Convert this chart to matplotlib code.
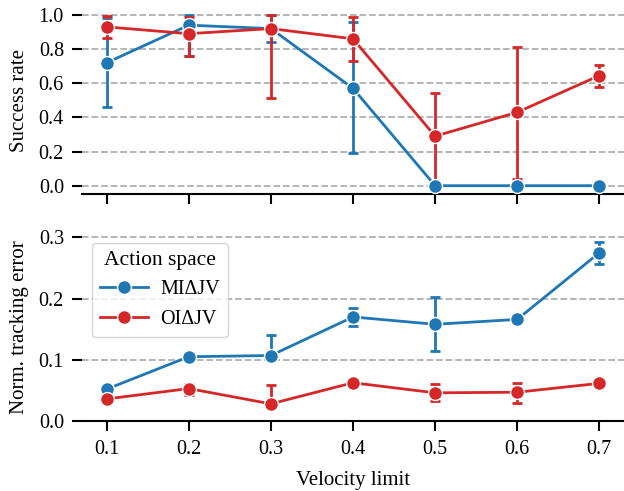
import matplotlib
matplotlib.use("Agg")
import matplotlib.pyplot as plt
import numpy as np

# data
vel = [0.1, 0.2, 0.3, 0.4, 0.5, 0.6, 0.7]
labels = ["MI\u0394JV", "OI\u0394JV"]
colors = ["#1f77b4", "#d62728"]

succ_mi = [0.72, 0.94, 0.92, 0.57, 0.0, 0.0, 0.0]
succ_mi_lo = [0.46, 0.76, 0.84, 0.19, 0.0, 0.0, 0.0]
succ_mi_hi = [0.98, 1.0, 1.0, 0.96, 0.0, 0.0, 0.0]
succ_oi = [0.93, 0.89, 0.92, 0.86, 0.29, 0.43, 0.645]
succ_oi_lo = [0.865, 0.76, 0.515, 0.73, 0.0, 0.04, 0.58]
succ_oi_hi = [0.995, 0.99, 1.0, 0.99, 0.545, 0.815, 0.705]

err_mi = [0.052, 0.105, 0.107, 0.170, 0.158, 0.166, 0.275]
err_mi_lo = [0.047, 0.100, 0.100, 0.155, 0.114, 0.163, 0.257]
err_mi_hi = [0.055, 0.108, 0.140, 0.185, 0.202, 0.169, 0.293]
err_oi = [0.036, 0.053, 0.028, 0.0625, 0.046, 0.047, 0.0615]
err_oi_lo = [0.034, 0.042, 0.025, 0.060, 0.033, 0.030, 0.060]
err_oi_hi = [0.039, 0.060, 0.059, 0.065, 0.060, 0.0625, 0.063]

plt.rcParams["font.family"] = ["Liberation Serif", "DejaVu Serif"]
plt.rcParams["axes.linewidth"] = 1.5

fig, (ax1, ax2) = plt.subplots(2, 1, sharex=True, figsize=(6.24, 4.91), dpi=100)
fig.subplots_adjust(left=0.1314, right=1.0, bottom=0.1426, top=0.987, hspace=0.207)


def draw(ax, mean, lo, hi, color, label):
    mean = np.array(mean)
    yerr = [mean - np.array(lo), np.array(hi) - mean]
    ax.errorbar(vel, mean, yerr=yerr, fmt="none", ecolor=color,
                elinewidth=2, capsize=3.5, capthick=2, zorder=2.5)
    ax.plot(vel, mean, color=color, lw=2, marker="o", ms=10,
            mec="white", mew=1, label=label, zorder=3)


draw(ax1, succ_mi, succ_mi_lo, succ_mi_hi, colors[0], labels[0])
draw(ax1, succ_oi, succ_oi_lo, succ_oi_hi, colors[1], labels[1])
draw(ax2, err_mi, err_mi_lo, err_mi_hi, colors[0], labels[0])
draw(ax2, err_oi, err_oi_lo, err_oi_hi, colors[1], labels[1])

ax1.set_ylim(-0.05, 1.05)
ax1.set_yticks([0.0, 0.2, 0.4, 0.6, 0.8, 1.0])
ax2.set_ylim(0, 0.307)
ax2.set_yticks([0.0, 0.1, 0.2, 0.3])
ax2.set_xticks(vel)
ax2.set_xticklabels([f"{v:.1f}" for v in vel])

for ax in (ax1, ax2):
    for s in ("top", "right", "left"):
        ax.spines[s].set_visible(False)
    ax.yaxis.grid(True, ls="--", color="#b0b0b0", lw=1.3)
    ax.set_axisbelow(True)
    ax.tick_params(axis="both", length=7, width=1.5, labelsize=14.5)
    ax.tick_params(axis="y", pad=6)
    ax.tick_params(axis="x", pad=7)

ax1.set_ylabel("Success rate", fontsize=15, labelpad=7)
ax2.set_ylabel("Norm. tracking error", fontsize=15, labelpad=7)
ax2.set_xlabel("Velocity limit", fontsize=15, labelpad=8)

leg = ax2.legend(title="Action space", loc="upper left", fontsize=14.5,
                 title_fontsize=15.5, handlelength=2.4, handletextpad=0.6,
                 borderpad=0.4, labelspacing=0.5)
leg.get_frame().set_edgecolor("#cccccc")

fig.savefig("out.png", dpi=100)
